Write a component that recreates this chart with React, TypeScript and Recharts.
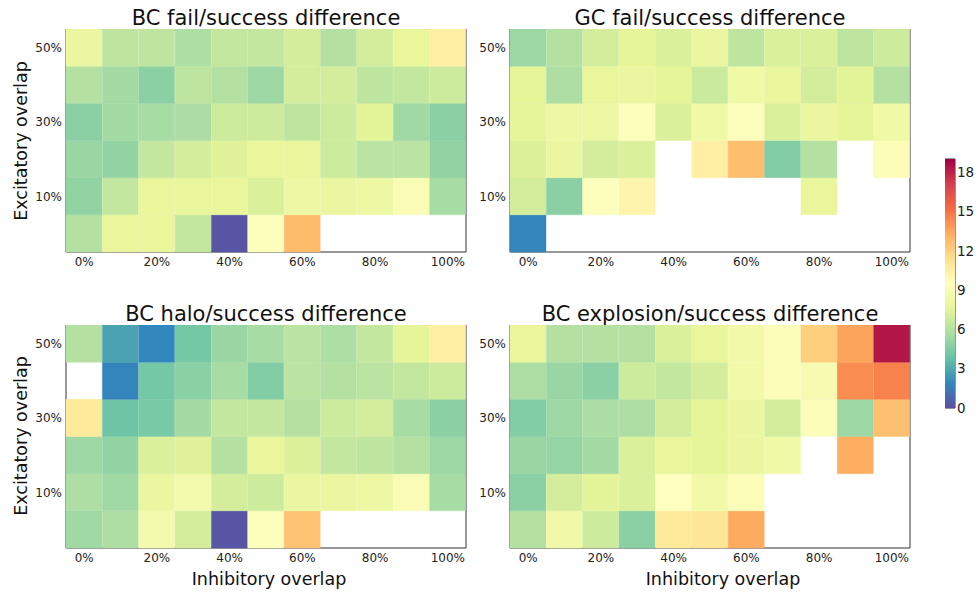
import React from 'react'
import { BarChart, Bar, XAxis, YAxis, Cell, ReferenceArea } from 'recharts'

// columns: inhibitory overlap
const inhibitoryLevels = ['0%', '10%', '20%', '30%', '40%', '50%', '60%', '70%', '80%', '90%', '100%']
// rows: excitatory overlap, bottom to top
const excitatoryLevels = ['0%', '10%', '20%', '30%', '40%', '50%']
const yTickLabels = ['10%', '30%', '50%']
const colorbarTicks = [0, 3, 6, 9, 12, 15, 18]
const colorMax = 19

// each grid lists rows from 50% (top) down to 0% (bottom); null = no data
const bcFail = [
  [8.0, 6.3, 6.3, 5.8, 6.5, 6.5, 7.0, 6.0, 7.0, 7.8, 10.5],
  [6.0, 5.5, 4.8, 6.3, 6.0, 5.3, 7.0, 7.0, 6.3, 6.5, 6.8],
  [4.8, 5.5, 5.6, 5.7, 6.8, 6.8, 6.3, 6.8, 7.5, 5.4, 4.8],
  [5.2, 5.0, 6.5, 7.0, 7.4, 7.8, 7.8, 6.8, 6.2, 6.2, 5.0],
  [5.0, 6.5, 7.8, 7.8, 7.8, 7.2, 8.2, 8.0, 8.2, 9.0, 5.6],
  [6.0, 7.8, 7.8, 6.5, 0.2, 9.3, 12.8, null, null, null, null],
]
const gcFail = [
  [5.3, 6.0, 7.0, 7.6, 7.2, 8.0, 6.3, 7.2, 7.2, 6.3, 6.8],
  [7.6, 5.8, 7.8, 8.0, 7.6, 6.7, 8.3, 7.8, 7.0, 7.5, 6.0],
  [7.6, 8.2, 8.2, 9.3, 7.2, 8.3, 9.3, 7.2, 8.0, 7.6, 8.3],
  [7.3, 8.0, 7.0, 7.2, null, 10.5, 12.7, 4.6, 6.0, null, 9.2],
  [7.0, 4.8, 9.3, 10.2, null, null, null, null, 7.8, null, null],
  [1.8, null, null, null, null, null, null, null, null, null, null],
]
const bcHalo = [
  [6.0, 2.8, 1.9, 4.2, 5.2, 5.6, 6.2, 5.8, 6.5, 7.6, 10.5],
  [null, 1.8, 4.2, 4.8, 5.6, 4.6, 6.2, 6.0, 6.2, 6.5, 6.8],
  [10.8, 4.0, 4.3, 5.5, 6.5, 6.5, 6.0, 6.8, 7.0, 5.6, 4.8],
  [5.3, 5.0, 7.2, 7.4, 6.0, 7.8, 7.3, 6.5, 6.3, 6.0, 5.3],
  [5.8, 5.4, 8.0, 8.6, 7.0, 6.8, 8.0, 8.0, 8.2, 9.0, 5.6],
  [5.4, 5.8, 8.6, 7.0, 0.2, 9.3, 12.5, null, null, null, null],
]
const bcExplosion = [
  [7.8, 6.0, 6.0, 6.0, 7.2, 7.8, 8.5, 9.2, 12.0, 13.6, 18.3],
  [5.8, 5.2, 4.8, 6.8, 6.5, 7.0, 8.5, 9.2, 8.8, 14.3, 14.6],
  [4.6, 5.3, 5.7, 5.8, 7.0, 7.6, 8.0, 7.0, 9.2, 5.3, 12.6],
  [5.2, 5.1, 5.5, 7.2, 7.8, 7.6, 8.0, 8.3, null, 13.3, null],
  [4.8, 7.0, 7.5, 7.2, 9.5, 8.5, 9.2, null, null, null, null],
  [6.0, 8.4, 6.8, 4.8, 10.8, 11.0, 13.4, null, null, null, null],
]

const spectralR = ['#5e4fa2', '#3288bd', '#66c2a5', '#abdda4', '#e6f598', '#ffffbf', '#fee08b', '#fdae61', '#f46d43', '#d53e4f', '#9e0142']

function hex(c: string) {
  return [1, 3, 5].map(i => parseInt(c.slice(i, i + 2), 16))
}

function colorOf(v: number | null) {
  if (v == null) return 'transparent'
  const t = Math.max(0, Math.min(1, v / colorMax)) * (spectralR.length - 1)
  const i = Math.min(Math.floor(t), spectralR.length - 2)
  const f = t - i
  const a = hex(spectralR[i])
  const b = hex(spectralR[i + 1])
  const m = a.map((x, k) => Math.round(x + (b[k] - x) * f))
  return `rgb(${m[0]},${m[1]},${m[2]})`
}

const font = 'DejaVu Sans, Verdana, sans-serif'
const PLOT_W = 400
const PLOT_H = 223
const Y_AXIS_W = 66

const cellData = inhibitoryLevels.map(name => {
  const row: Record<string, any> = { name }
  excitatoryLevels.forEach((_, r) => { row['r' + r] = 1 })
  return row
})

function Heatmap({ grid, title, left, top }: { grid: (number | null)[][]; title: string; left: number; top: number }) {
  const yTicks = yTickLabels.map(l => excitatoryLevels.indexOf(l) + 0.5)
  return (
    <>
      <div style={{ position: 'absolute', left, top: top - 21, width: PLOT_W, textAlign: 'center', fontFamily: font, fontSize: 21, lineHeight: '21px', color: '#111', whiteSpace: 'nowrap' }}>
        {title}
      </div>
      <div style={{ position: 'absolute', left: left - Y_AXIS_W, top }}>
        <BarChart width={Y_AXIS_W + PLOT_W + 2} height={PLOT_H + 30} data={cellData} barCategoryGap={0} margin={{ top: 0, right: 2, bottom: 0, left: 0 }}>
          <XAxis dataKey="name" interval={1} axisLine={false} tickLine={false} tickSize={5} tickMargin={0} height={30}
            tick={{ fontSize: 12, fill: '#222', fontFamily: font }} />
          <YAxis type="number" domain={[0, excitatoryLevels.length]} ticks={yTicks} width={Y_AXIS_W}
            tickFormatter={(v: number) => excitatoryLevels[Math.floor(v)]} axisLine={false} tickLine={false} tickSize={4} tickMargin={0}
            tick={{ fontSize: 12, fill: '#222', fontFamily: font }} />
          {excitatoryLevels.map((_, r) => (
            <Bar key={r} dataKey={'r' + r} stackId="s" isAnimationActive={false}>
              {cellData.map((_, c) => (
                <Cell key={c} fill={colorOf(grid[grid.length - 1 - r][c])} stroke={colorOf(grid[grid.length - 1 - r][c])} strokeWidth={0.4} />
              ))}
            </Bar>
          ))}
          <ReferenceArea y1={0} y2={excitatoryLevels.length} fill="none" stroke="#333" strokeWidth={1} ifOverflow="visible" />
        </BarChart>
      </div>
    </>
  )
}

function Colorbar() {
  return (
    <div style={{ position: 'absolute', left: 945, top: 149 }}>
      <BarChart width={40} height={269} data={[{ name: 'cb', v: colorMax }]} barCategoryGap={0} margin={{ top: 10, right: 0, bottom: 10, left: 0 }}>
        <defs>
          <linearGradient id="cbGrad" x1="0" y1="1" x2="0" y2="0">
            {spectralR.map((c, i) => (
              <stop key={i} offset={i / (spectralR.length - 1)} stopColor={c} />
            ))}
          </linearGradient>
        </defs>
        <XAxis dataKey="name" hide />
        <YAxis orientation="right" type="number" domain={[0, colorMax]} ticks={colorbarTicks} width={30} interval={0}
          axisLine={false} tickLine={false} tickSize={2} tickMargin={0}
          tick={{ fontSize: 13.5, fill: '#222', fontFamily: font }} />
        <Bar dataKey="v" fill="url(#cbGrad)" isAnimationActive={false} />
        <ReferenceArea y1={0} y2={colorMax} fill="none" stroke="#333" strokeWidth={1} ifOverflow="visible" />
      </BarChart>
    </div>
  )
}

const axisText: React.CSSProperties = { position: 'absolute', fontFamily: font, fontSize: 17.5, color: '#111', whiteSpace: 'nowrap', lineHeight: '18px' }

export default function App() {
  return (
    <div style={{ position: 'absolute', left: 0, top: 0, width: 979, height: 593, background: '#fff', overflow: 'hidden' }}>
      <Heatmap grid={bcFail} title="BC fail/success difference" left={66} top={29} />
      <Heatmap grid={gcFail} title="GC fail/success difference" left={510} top={29} />
      <Heatmap grid={bcHalo} title="BC halo/success difference" left={66} top={325} />
      <Heatmap grid={bcExplosion} title="BC explosion/success difference" left={510} top={325} />
      <Colorbar />
      <div style={{ ...axisText, left: 21, top: 141, transform: 'translate(-50%, -50%) rotate(-90deg)' }}>Excitatory overlap</div>
      <div style={{ ...axisText, left: 21, top: 436, transform: 'translate(-50%, -50%) rotate(-90deg)' }}>Excitatory overlap</div>
      <div style={{ ...axisText, left: 269, top: 579, transform: 'translate(-50%, -50%)' }}>Inhibitory overlap</div>
      <div style={{ ...axisText, left: 723, top: 579, transform: 'translate(-50%, -50%)' }}>Inhibitory overlap</div>
    </div>
  )
}
